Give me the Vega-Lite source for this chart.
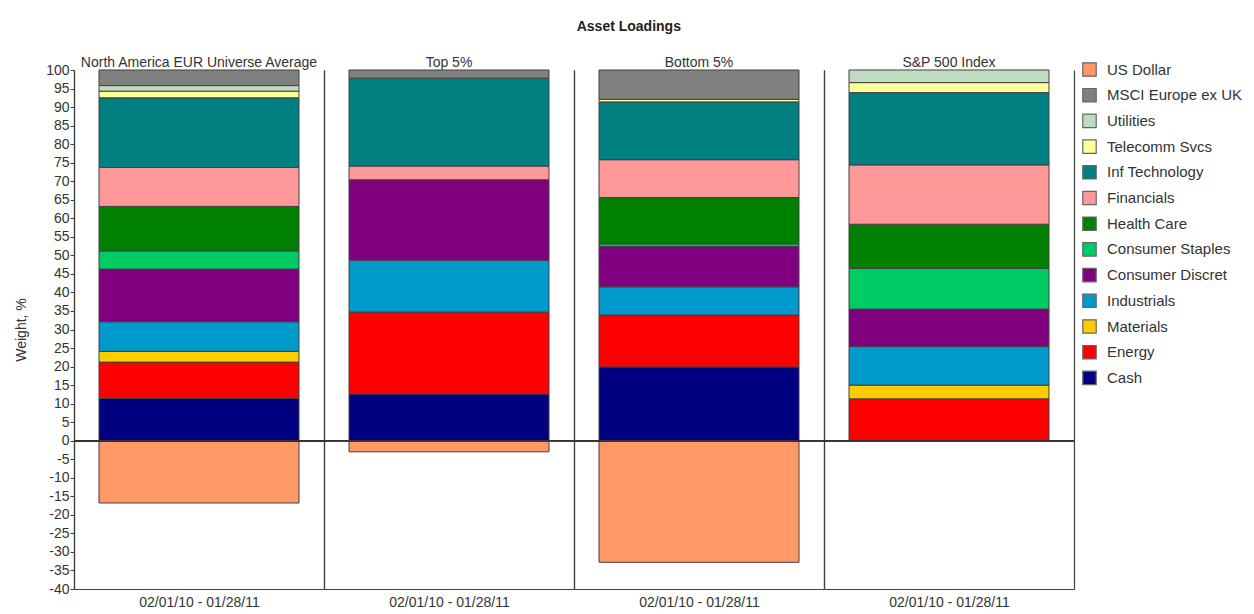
{
  "$schema": "https://vega.github.io/schema/vega-lite/v6.json",
  "background": "white",
  "padding": {"left": 14, "top": 20, "right": 5, "bottom": 5},
  "bounds": "flush",
  "title": {"text": "Asset Loadings", "fontSize": 14, "fontWeight": "bold", "font": "Liberation Sans", "color": "#222", "anchor": "middle", "offset": 22},
  "data": {"values": [
    {"group": "North America EUR Universe Average", "period": "02/01/10 - 01/28/11", "sector": "Cash", "weight": 11.4},
    {"group": "North America EUR Universe Average", "period": "02/01/10 - 01/28/11", "sector": "Energy", "weight": 9.8},
    {"group": "North America EUR Universe Average", "period": "02/01/10 - 01/28/11", "sector": "Materials", "weight": 2.9},
    {"group": "North America EUR Universe Average", "period": "02/01/10 - 01/28/11", "sector": "Industrials", "weight": 8.0},
    {"group": "North America EUR Universe Average", "period": "02/01/10 - 01/28/11", "sector": "Consumer Discret", "weight": 14.2},
    {"group": "North America EUR Universe Average", "period": "02/01/10 - 01/28/11", "sector": "Consumer Staples", "weight": 4.9},
    {"group": "North America EUR Universe Average", "period": "02/01/10 - 01/28/11", "sector": "Health Care", "weight": 12.0},
    {"group": "North America EUR Universe Average", "period": "02/01/10 - 01/28/11", "sector": "Financials", "weight": 10.5},
    {"group": "North America EUR Universe Average", "period": "02/01/10 - 01/28/11", "sector": "Inf Technology", "weight": 18.8},
    {"group": "North America EUR Universe Average", "period": "02/01/10 - 01/28/11", "sector": "Telecomm Svcs", "weight": 1.8},
    {"group": "North America EUR Universe Average", "period": "02/01/10 - 01/28/11", "sector": "Utilities", "weight": 1.5},
    {"group": "North America EUR Universe Average", "period": "02/01/10 - 01/28/11", "sector": "MSCI Europe ex UK", "weight": 4.2},
    {"group": "North America EUR Universe Average", "period": "02/01/10 - 01/28/11", "sector": "US Dollar", "weight": -16.8},
    {"group": "Top 5%", "period": "02/01/10 - 01/28/11", "sector": "Cash", "weight": 12.6},
    {"group": "Top 5%", "period": "02/01/10 - 01/28/11", "sector": "Energy", "weight": 22.1},
    {"group": "Top 5%", "period": "02/01/10 - 01/28/11", "sector": "Industrials", "weight": 14.0},
    {"group": "Top 5%", "period": "02/01/10 - 01/28/11", "sector": "Consumer Discret", "weight": 21.7},
    {"group": "Top 5%", "period": "02/01/10 - 01/28/11", "sector": "Financials", "weight": 3.7},
    {"group": "Top 5%", "period": "02/01/10 - 01/28/11", "sector": "Inf Technology", "weight": 23.7},
    {"group": "Top 5%", "period": "02/01/10 - 01/28/11", "sector": "MSCI Europe ex UK", "weight": 2.2},
    {"group": "Top 5%", "period": "02/01/10 - 01/28/11", "sector": "US Dollar", "weight": -3.0},
    {"group": "Bottom 5%", "period": "02/01/10 - 01/28/11", "sector": "Cash", "weight": 19.9},
    {"group": "Bottom 5%", "period": "02/01/10 - 01/28/11", "sector": "Energy", "weight": 14.0},
    {"group": "Bottom 5%", "period": "02/01/10 - 01/28/11", "sector": "Industrials", "weight": 7.6},
    {"group": "Bottom 5%", "period": "02/01/10 - 01/28/11", "sector": "Consumer Discret", "weight": 10.9},
    {"group": "Bottom 5%", "period": "02/01/10 - 01/28/11", "sector": "Consumer Staples", "weight": 0.7},
    {"group": "Bottom 5%", "period": "02/01/10 - 01/28/11", "sector": "Health Care", "weight": 12.5},
    {"group": "Bottom 5%", "period": "02/01/10 - 01/28/11", "sector": "Financials", "weight": 10.2},
    {"group": "Bottom 5%", "period": "02/01/10 - 01/28/11", "sector": "Inf Technology", "weight": 15.6},
    {"group": "Bottom 5%", "period": "02/01/10 - 01/28/11", "sector": "Telecomm Svcs", "weight": 0.7},
    {"group": "Bottom 5%", "period": "02/01/10 - 01/28/11", "sector": "MSCI Europe ex UK", "weight": 7.9},
    {"group": "Bottom 5%", "period": "02/01/10 - 01/28/11", "sector": "US Dollar", "weight": -32.8},
    {"group": "S&P 500 Index", "period": "02/01/10 - 01/28/11", "sector": "Energy", "weight": 11.3},
    {"group": "S&P 500 Index", "period": "02/01/10 - 01/28/11", "sector": "Materials", "weight": 3.7},
    {"group": "S&P 500 Index", "period": "02/01/10 - 01/28/11", "sector": "Industrials", "weight": 10.4},
    {"group": "S&P 500 Index", "period": "02/01/10 - 01/28/11", "sector": "Consumer Discret", "weight": 10.1},
    {"group": "S&P 500 Index", "period": "02/01/10 - 01/28/11", "sector": "Consumer Staples", "weight": 11.0},
    {"group": "S&P 500 Index", "period": "02/01/10 - 01/28/11", "sector": "Health Care", "weight": 11.9},
    {"group": "S&P 500 Index", "period": "02/01/10 - 01/28/11", "sector": "Financials", "weight": 16.0},
    {"group": "S&P 500 Index", "period": "02/01/10 - 01/28/11", "sector": "Inf Technology", "weight": 19.5},
    {"group": "S&P 500 Index", "period": "02/01/10 - 01/28/11", "sector": "Telecomm Svcs", "weight": 2.7},
    {"group": "S&P 500 Index", "period": "02/01/10 - 01/28/11", "sector": "Utilities", "weight": 3.4}
  ]},
  "transform": [
    {"window": [{"op": "row_number", "as": "stackRank"}], "groupby": ["group"]}
  ],
  "facet": {
    "column": {
      "field": "group", "type": "nominal",
      "sort": ["North America EUR Universe Average", "Top 5%", "Bottom 5%", "S&P 500 Index"],
      "header": {"title": null, "labelFontSize": 14, "labelFont": "Liberation Sans", "labelColor": "#333", "labelPadding": 0}
    }
  },
  "spacing": 0,
  "spec": {
    "width": 250,
    "height": 519,
    "layer": [
      {
        "mark": {"type": "bar", "stroke": "#404040", "strokeWidth": 1, "width": {"band": 0.8}},
        "encoding": {
          "x": {"field": "period", "type": "nominal", "scale": {"paddingInner": 0, "paddingOuter": 0},
                "axis": {"title": null, "labelAngle": 0, "tickBand": "extent", "grid": true, "gridColor": "#404040", "gridOpacity": {"condition": {"test": "datum.index > 0.5", "value": 0}, "value": 1}, "gridWidth": 1.2, "ticks": false, "domainColor": "#404040", "domainWidth": 1.2, "labelFontSize": 14, "labelFont": "Liberation Sans", "labelColor": "#333", "labelPadding": 6}},
          "y": {"field": "weight", "type": "quantitative", "stack": "zero", "scale": {"domain": [-40, 100], "nice": false},
                "axis": {"title": "Weight, %", "tickCount": 30, "labelExpr": "datum.value + ''", "labelOverlap": false, "labelSeparation": 0, "grid": false, "tickSize": 4, "tickColor": "#404040", "domainColor": "#404040", "domainWidth": 1.2, "labelFontSize": 14, "labelFont": "Liberation Sans", "labelColor": "#333", "labelPadding": 1, "titleFontSize": 14, "titleFont": "Liberation Sans", "titleFontWeight": "normal", "titleColor": "#333", "titlePadding": 17}},
          "order": {"field": "stackRank", "type": "quantitative", "sort": "ascending"},
          "color": {
            "field": "sector", "type": "nominal",
            "scale": {
              "domain": ["US Dollar", "MSCI Europe ex UK", "Utilities", "Telecomm Svcs", "Inf Technology", "Financials", "Health Care", "Consumer Staples", "Consumer Discret", "Industrials", "Materials", "Energy", "Cash"],
              "range": ["#FF9966", "#808080", "#C0DCC0", "#FFFF99", "#008080", "#FF9999", "#008000", "#00CC66", "#800080", "#0099CC", "#FFCC00", "#FF0000", "#000080"]
            },
            "legend": {"title": null, "orient": "none", "legendX": 1008, "legendY": -8, "symbolType": "square", "symbolSize": 180, "symbolStrokeColor": "#666", "symbolStrokeWidth": 1.2, "labelFontSize": 15, "labelFont": "Liberation Sans", "labelColor": "#333", "rowPadding": 6.7, "labelOffset": 10}
          }
        }
      },
      {
        "mark": {"type": "rule", "color": "#333", "strokeWidth": 1.2},
        "encoding": {"y": {"datum": 0}}
      }
    ]
  },
  "config": {"view": {"stroke": null}, "font": "Liberation Sans"}
}
